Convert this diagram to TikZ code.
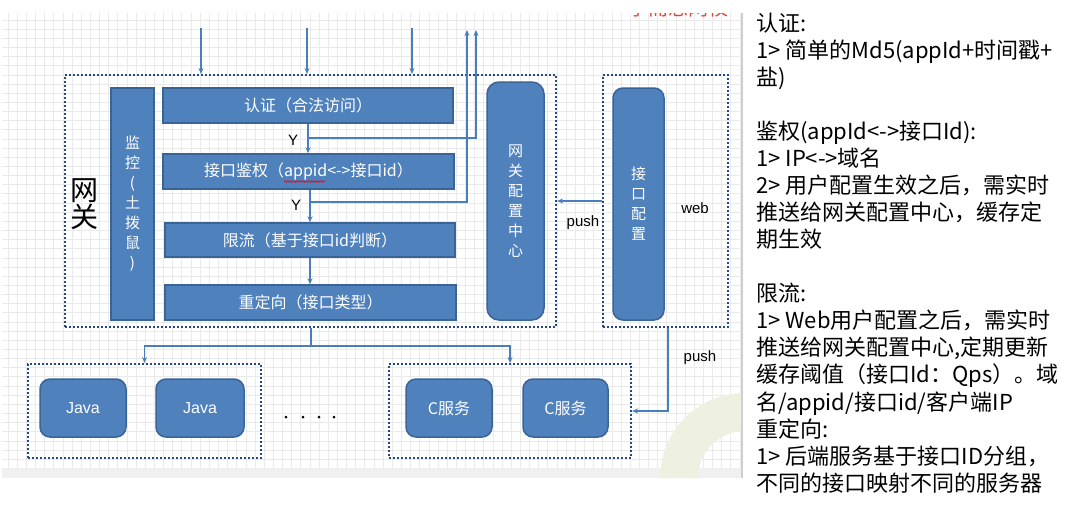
\documentclass[tikz,border=0pt]{standalone}
\usepackage{fontspec}
\usetikzlibrary{arrows.meta}
\usetikzlibrary{decorations.pathmorphing}
\newfontfamily\cjk{Noto Sans CJK SC}
\newfontfamily\lat{Liberation Sans}
\definecolor{boxblue}{HTML}{4F81BD}
\definecolor{boxedge}{HTML}{3A6496}
\definecolor{lineblue}{HTML}{4A7EBB}
\definecolor{dotblue}{HTML}{24497A}
\definecolor{gridgray}{HTML}{EAEAEA}
\definecolor{bandgray}{HTML}{F0F0F0}
\definecolor{framegray}{HTML}{CFCFCF}
\definecolor{arcgreen}{HTML}{EEF1E1}
\definecolor{markred}{HTML}{E0453C}

\begin{document}
\begin{tikzpicture}[x=1pt, y=-1pt,
    blk/.style={rectangle, draw=boxedge, line width=1.5pt, fill=boxblue, text=white,
        inner sep=0pt, align=center, font=\cjk\fontsize{16}{20}\selectfont},
    rblk/.style={blk, rounded corners=10pt},
    grp/.style={rectangle, draw=dotblue, line width=2pt, dash pattern=on 2pt off 2pt, inner sep=0pt},
    link/.style={draw=lineblue, line width=1.2pt, -{Stealth[length=6pt, width=5pt]}},
    lbl/.style={inner sep=0pt, text=black, font=\lat\fontsize{15}{18}\selectfont} ]

    \useasboundingbox (0,0) rectangle (1091,509);
    \fill[white] (0,0) rectangle (1091,509);
    \fill[bandgray] (2,468) rectangle (742,478);
    \draw[gridgray, line width=0.8pt]
    \foreach \gx in {8,17.15,...,740} {
            (\gx,13) -- (\gx,468)
        }
    \foreach \gy in {20,29.15,...,466} {
            (2,\gy) -- (742,\gy)
        };
    \fill[arcgreen] (660,478) arc[start angle=180, end angle=270, radius=85]
        -- (745,431) arc[start angle=270, end angle=180, radius=47] -- cycle;
    \fill[white] (742,0) rectangle (1091,509);
    \draw[framegray, line width=1.5pt] (742,13) -- (742,478);
    \begin{scope}
        \clip (600,13) rectangle (740,40);
        \node[text=markred, font=\cjk\fontsize{20}{20}\selectfont] (mark) at (678,8) {学而思网校};
    \end{scope}

    \node[grp, minimum width=491pt, minimum height=252pt] (gw) at (310.5,201) {};
    \node[grp, minimum width=125pt, minimum height=252pt] (webgrp) at (665.5,201) {};
    \node[font=\cjk\fontsize{28}{28}\selectfont, align=center, inner sep=0pt] (gwname) at (84,204) {网\\[-1pt]关};

    \node[blk, font=\cjk\fontsize{15}{20}\selectfont, minimum width=43pt, minimum height=232pt] (mon) at (132.5,204) {监\\控\\(\\土\\拨\\鼠\\)};
    \node[blk, minimum width=290pt, minimum height=35pt] (auth) at (308,105.5) {认证（合法访问）};
    \node[blk, minimum width=291pt, minimum height=35pt] (perm) at (308.5,171.5) {接口鉴权（appid<->接口id）};
    \node[blk, minimum width=290pt, minimum height=34pt] (limit) at (310,240) {限流（基于接口id判断）};
    \node[blk, minimum width=291pt, minimum height=35pt] (redir) at (310.5,302.5) {重定向（接口类型）};
    \node[rblk, font=\cjk\fontsize{15}{20}\selectfont, rounded corners=12pt, minimum width=57pt, minimum height=238pt] (cfg) at (515.5,201) {网\\关\\配\\置\\中\\心};
    \node[rblk, font=\cjk\fontsize{15}{20}\selectfont, minimum width=51pt, minimum height=232pt] (ifc) at (638.5,204) {接\\口\\配\\置};
    \draw[red, line width=0.7pt, decorate, decoration={snake, amplitude=0.8pt, segment length=3pt}] (284,181.5) -- (325,181.5);

    \node[grp, minimum width=233pt, minimum height=94pt] (javagrp) at (144.5,411) {};
    \node[grp, minimum width=242pt, minimum height=94pt] (cgrp) at (510,411) {};
    \node[rblk, minimum width=86pt, minimum height=58pt] (java1) at (83,408) {\lat Java};
    \node[rblk, minimum width=88pt, minimum height=58pt] (java2) at (200,408) {\lat Java};
    \node[rblk, minimum width=86pt, minimum height=58pt] (csvc1) at (449,408) {C服务};
    \node[rblk, minimum width=85pt, minimum height=58pt] (csvc2) at (565.5,408) {C服务};
    \foreach \dx in {286,303,319,334} {
            \fill[black] (\dx,417) circle (1.5pt);
        }

    \coordinate (in1) at (201,28);
    \coordinate (in2) at (307,28);
    \coordinate (in3) at (412,28);
    \coordinate (out1) at (467,30);
    \coordinate (out2) at (476,30);
    \coordinate (y1) at (auth.south |- 0,138);
    \coordinate (y2) at (limit.north |- 0,202);
    \coordinate (split) at (311,346);
    \coordinate (turn) at (668,411);

    \foreach \n in {in1, in2, in3} {
            \draw[link] (\n) -- (\n |- gw.north);
        }
    \draw[link] (auth.south) -- (auth.south |- perm.north);
    \draw[link] (perm.south -| limit.north) -- (limit.north);
    \draw[link] (limit.south) -- (limit.south |- redir.north);
    \draw[link] (y1) -| (out2);
    \draw[link] (y2) -| (out1);
    \draw[lineblue, line width=1.2pt] (gw.south -| split) -- (split);
    \draw[link] (split) -| (javagrp.north);
    \draw[link] (split) -| (cgrp.north);
    \draw[link] (webgrp.west) -- (gw.east);
    \draw[link] (turn |- webgrp.south) -- (turn) -- (cgrp.east);

    \node[lbl] (yes1) at (293,140) {Y};
    \node[lbl] (yes2) at (296,205) {Y};
    \node[lbl] (push1) at (583,223) {push};
    \node[lbl] (push2) at (700,358) {push};
    \node[lbl] (web) at (695,208) {web};

    \node[anchor=north west, inner sep=0pt, align=left, font=\cjk\fontsize{22}{27.06}\selectfont] (notes) at (756,12.5) {认证:\\
        1> 简单的Md5(appId+时间戳+\\
        盐)\\[27.06pt]
        鉴权(appId<->接口Id):\\
        1> IP<->域名\\
        2> 用户配置生效之后，需实时\\
        推送给网关配置中心，缓存定\\
        期生效\\[27.06pt]
        限流:\\
        1> Web用户配置之后，需实时\\
        推送给网关配置中心,定期更新\\
        缓存阈值（接口Id：Qps）。域\\
        名/appid/接口id/客户端IP\\
        重定向:\\
        1> 后端服务基于接口ID分组，\\
        不同的接口映射不同的服务器};

\end{tikzpicture}
\end{document}
